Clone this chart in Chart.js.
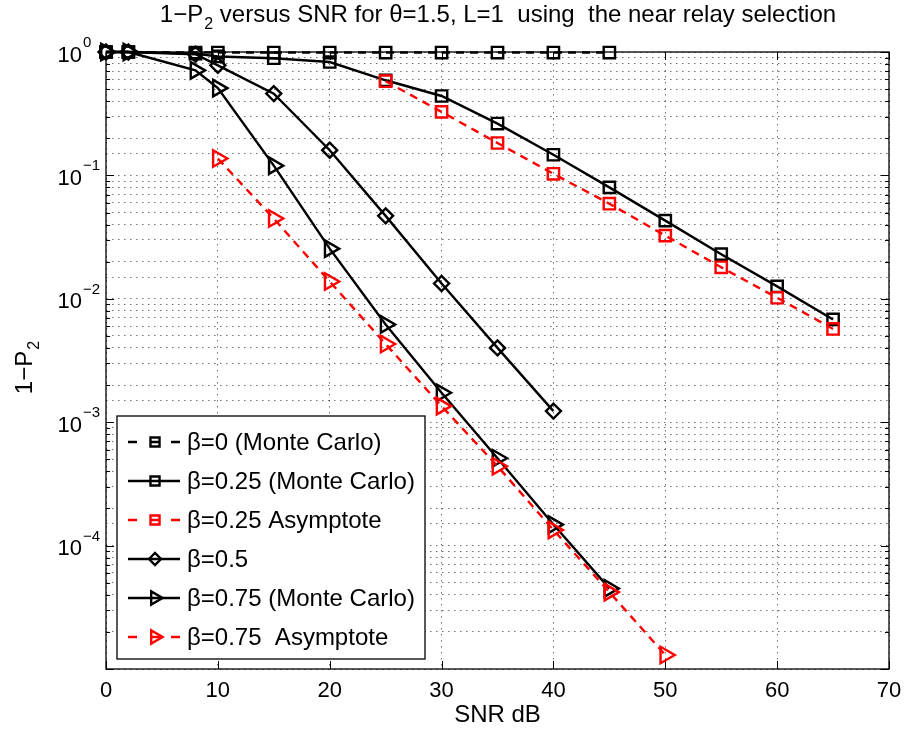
<!DOCTYPE html>
<html>
<head>
<meta charset="utf-8">
<script src="https://cdn.jsdelivr.net/npm/chart.js@4.4.1/dist/chart.umd.min.js"></script>
<style>
  html, body { margin: 0; padding: 0; background: #fff; }
  #wrap { width: 905px; height: 731px; }
</style>
</head>
<body>
<div id="wrap"><canvas id="chart1" width="905" height="731"></canvas></div>
<script>
// SNR points (dB) per curve
var snrB0 = [0, 2, 8, 10, 15, 20, 25, 30, 35, 40, 45];
var snrB025 = [0, 2, 8, 10, 15, 20, 25, 30, 35, 40, 45, 50, 55, 60, 65];
var snrB025Asym = [25, 30, 35, 40, 45, 50, 55, 60, 65];
var snrB05 = [0, 2, 8, 10, 15, 20, 25, 30, 35, 40];
var snrB075 = [0, 2, 8, 10, 15, 20, 25, 30, 35, 40, 45];
var snrB075Asym = [10, 15, 20, 25, 30, 35, 40, 45, 50];

// 1-P2 values
var b0MC = [1, 1, 0.99, 0.99, 0.99, 0.99, 0.99, 0.99, 0.99, 0.99, 0.99];
var b025MC = [1, 1, 0.97, 0.92, 0.89, 0.83, 0.59, 0.44, 0.263, 0.147, 0.080, 0.043, 0.023, 0.0126, 0.0068];
var b025Asym = [0.58, 0.327, 0.183, 0.103, 0.059, 0.0325, 0.018, 0.0102, 0.0057];
var b05 = [1, 1, 0.96, 0.78, 0.46, 0.16, 0.047, 0.0133, 0.0040, 0.00123];
var b075MC = [1, 1, 0.71, 0.51, 0.12, 0.0255, 0.0062, 0.00173, 0.00051, 0.000148, 0.000045];
var b075Asym = [0.137, 0.0447, 0.0138, 0.0043, 0.00135, 0.00044, 0.000134, 0.000042, 0.000013];

var seriesNames = ['\u03b2=0 (Monte Carlo)', '\u03b2=0.25 (Monte Carlo)', '\u03b2=0.25 Asymptote',
                   '\u03b2=0.5', '\u03b2=0.75 (Monte Carlo)', '\u03b2=0.75  Asymptote'];
var xTicks = [0, 10, 20, 30, 40, 50, 60, 70];
var yExps = [0, -1, -2, -3, -4];

var FONT = '"Liberation Sans", Arial, Helvetica, sans-serif';
var RED = '#ff0000';
var DASH = [8, 6];

function pts(xs, ys) {
    return xs.map(function(x, i) { return {x: x, y: ys[i]}; });
}

function mkSet(i, xs, ys, color, dashed, style, rot, r) {
    return {
        label: seriesNames[i],
        data: pts(xs, ys),
        borderColor: color,
        borderWidth: 2.4,
        borderDash: dashed ? DASH : [],
        backgroundColor: 'rgba(0,0,0,0)',
        pointStyle: style,
        pointRotation: rot,
        pointRadius: r,
        pointBorderWidth: 2.4,
        pointBorderColor: color,
        pointBackgroundColor: 'rgba(0,0,0,0)',
        tension: 0,
        clip: false,
        order: 10 - i
    };
}

var datasets = [
    mkSet(0, snrB0, b0MC, '#000', true, 'rect', 0, 8),
    mkSet(1, snrB025, b025MC, '#000', false, 'rect', 0, 8),
    mkSet(2, snrB025Asym, b025Asym, RED, true, 'rect', 0, 8),
    mkSet(3, snrB05, b05, '#000', false, 'rectRot', 0, 7.5),
    mkSet(4, snrB075, b075MC, '#000', false, 'triangle', 90, 9.5),
    mkSet(5, snrB075Asym, b075Asym, RED, true, 'triangle', 90, 9.5)
];

// matlab-like frame, ticks, labels and legend
var matlabLook = {
    id: 'matlabLook',
    beforeDatasetsDraw: function(chart) {
        var ctx = chart.ctx, a = chart.chartArea;
        var xs = chart.scales.x, ys = chart.scales.y;
        ctx.save();
        ctx.strokeStyle = '#000';
        ctx.lineWidth = 1;
        ctx.beginPath();
        xTicks.forEach(function(v) {
            var px = Math.round(xs.getPixelForValue(v)) + 0.5;
            ctx.moveTo(px, a.bottom); ctx.lineTo(px, a.bottom - 8);
            ctx.moveTo(px, a.top); ctx.lineTo(px, a.top + 8);
        });
        for (var e = -5; e <= 0; e++) {
            for (var m = 1; m <= 9; m++) {
                var v = m * Math.pow(10, e);
                if (v > 1.0001) break;
                var py = Math.round(ys.getPixelForValue(v)) + 0.5;
                var len = m === 1 ? 8 : 4;
                ctx.moveTo(a.left, py); ctx.lineTo(a.left + len, py);
                ctx.moveTo(a.right, py); ctx.lineTo(a.right - len, py);
            }
        }
        ctx.stroke();
        ctx.lineWidth = 1.3;
        ctx.strokeRect(a.left, a.top, a.right - a.left, a.bottom - a.top);
        ctx.restore();
    },
    afterDraw: function(chart) {
        var ctx = chart.ctx, a = chart.chartArea;
        var xs = chart.scales.x, ys = chart.scales.y;
        ctx.save();
        ctx.fillStyle = '#000';

        // x tick labels
        ctx.font = '22px ' + FONT;
        ctx.textAlign = 'center';
        ctx.textBaseline = 'alphabetic';
        xTicks.forEach(function(v) {
            ctx.fillText(String(v), xs.getPixelForValue(v), 697);
        });

        // y tick labels 10^n
        yExps.forEach(function(e) {
            var py = ys.getPixelForValue(Math.pow(10, e));
            ctx.font = '22px ' + FONT;
            ctx.textAlign = 'right';
            ctx.fillText('10', 82, py + 9.5);
            ctx.font = '15px ' + FONT;
            ctx.textAlign = 'left';
            ctx.fillText(e === 0 ? '0' : '\u2212' + (-e), 83, py - 5);
        });

        // x axis title
        ctx.font = '24px ' + FONT;
        ctx.textAlign = 'center';
        ctx.fillText('SNR dB', (a.left + a.right) / 2, 722);

        // y axis title, rotated
        ctx.save();
        ctx.translate(32, 368);
        ctx.rotate(-Math.PI / 2);
        ctx.font = '24px ' + FONT;
        var w1 = ctx.measureText('1\u2212P').width;
        ctx.font = '16px ' + FONT;
        var w2 = ctx.measureText('2').width;
        var x0 = -(w1 + w2) / 2;
        ctx.font = '24px ' + FONT;
        ctx.textAlign = 'left';
        ctx.fillText('1\u2212P', x0, 0);
        ctx.font = '16px ' + FONT;
        ctx.fillText('2', x0 + w1 + 1, 7);
        ctx.restore();

        // title
        var tA = '1\u2212P', tB = '2', tC = ' versus SNR for \u03b8=1.5, L=1  using  the near relay selection';
        ctx.font = '24px ' + FONT;
        var wa = ctx.measureText(tA).width, wc = ctx.measureText(tC).width;
        ctx.font = '16px ' + FONT;
        var wb = ctx.measureText(tB).width;
        var tx = (a.left + a.right) / 2 - (wa + wb + wc) / 2;
        ctx.textAlign = 'left';
        ctx.font = '24px ' + FONT;
        ctx.fillText(tA, tx, 22);
        ctx.font = '16px ' + FONT;
        ctx.fillText(tB, tx + wa + 1, 29);
        ctx.font = '24px ' + FONT;
        ctx.fillText(tC, tx + wa + wb + 1, 22);

        // legend box
        var lx = 117, ly = 416, lw = 308, lh = 243;
        ctx.fillStyle = '#fff';
        ctx.fillRect(lx, ly, lw, lh);
        ctx.strokeStyle = '#000';
        ctx.lineWidth = 1.3;
        ctx.strokeRect(lx, ly, lw, lh);
        var rowY = [442, 481, 520, 559, 598, 637];
        chart.data.datasets.forEach(function(ds, i) {
            var cy = rowY[i];
            var dashed = ds.borderDash && ds.borderDash.length > 0;
            ctx.strokeStyle = ds.borderColor;
            ctx.lineWidth = 2.4;
            ctx.setLineDash([]);
            ctx.beginPath();
            if (dashed) {
                ctx.moveTo(128, cy); ctx.lineTo(137, cy);
                ctx.moveTo(150, cy); ctx.lineTo(160, cy);
                ctx.moveTo(171, cy); ctx.lineTo(180, cy);
            } else {
                ctx.moveTo(128, cy); ctx.lineTo(180, cy);
            }
            ctx.stroke();
            ctx.fillStyle = 'rgba(0,0,0,0)';
            Chart.helpers.drawPoint(ctx, {
                pointStyle: ds.pointStyle,
                rotation: ds.pointRotation,
                radius: ds.pointRadius * 0.8,
                borderWidth: 2.4
            }, 155, cy);
            ctx.fillStyle = '#000';
            ctx.font = '24px ' + FONT;
            ctx.textAlign = 'left';
            ctx.fillText(ds.label, 187, cy + 8);
        });
        ctx.restore();
    }
};

new Chart(document.getElementById('chart1'), {
    type: 'line',
    data: { datasets: datasets },
    options: {
        responsive: false,
        animation: false,
        devicePixelRatio: 1,
        layout: { padding: { left: 106, top: 52, right: 16, bottom: 62 } },
        plugins: { legend: { display: false }, tooltip: { enabled: false }, title: { display: false } },
        scales: {
            x: {
                type: 'linear', min: 0, max: 70,
                ticks: { display: false, stepSize: 10 },
                grid: { drawTicks: false, color: 'rgba(0,0,0,0.55)', lineWidth: 1 },
                border: { display: false, dash: [1.5, 4.5] }
            },
            y: {
                type: 'logarithmic', min: 1e-5, max: 1,
                ticks: { display: false },
                grid: { drawTicks: false, color: 'rgba(0,0,0,0.55)', lineWidth: 1 },
                border: { display: false, dash: [1.5, 4.5] }
            }
        }
    },
    plugins: [matlabLook]
});
</script>
</body>
</html>
